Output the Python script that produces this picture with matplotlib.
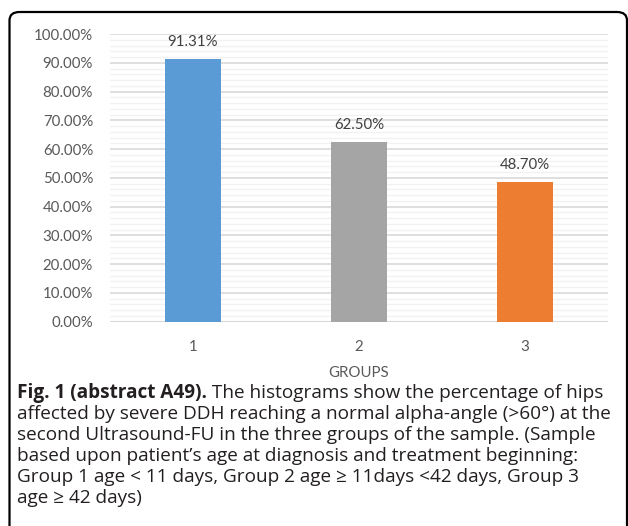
import matplotlib
matplotlib.use("Agg")
import matplotlib.pyplot as plt
from matplotlib.patches import FancyBboxPatch
from matplotlib.ticker import MultipleLocator, FuncFormatter

categories = ["1", "2", "3"]
values = [91.31, 62.50, 48.70]
bar_colors = ["#5B9BD5", "#A5A5A5", "#ED7D31"]
xlabel = "GROUPS"
caption_bold = "Fig. 1 (abstract A49)."
caption_lines = [
    " The histograms show the percentage of hips",
    "affected by severe DDH reaching a normal alpha-angle (>60°) at the",
    "second Ultrasound-FU in the three groups of the sample. (Sample",
    "based upon patient\u2019s age at diagnosis and treatment beginning:",
    "Group 1 age < 11 days, Group 2 age \u2265 11days <42 days, Group 3",
    "age \u2265 42 days)",
]

W, H = 628, 526
fig = plt.figure(figsize=(W / 100, H / 100), dpi=100)
FONT = "Lato"
CAPFONT = "Open Sans"
TXT = "#595959"

# rounded frame (only top and left visible)
frame = FancyBboxPatch((9.5 / W, -30 / H), (627 - 9.5) / W, (H - 12 + 30) / H,
                       boxstyle="round,pad=0,rounding_size=0.016",
                       transform=fig.transFigure, fill=False,
                       edgecolor="black", linewidth=1.6, clip_on=False)
fig.patches.append(frame)

ax = fig.add_axes([110 / W, (H - 321.7) / H, (608 - 110) / W, (321.7 - 34) / H])
x = list(range(len(categories)))
ax.bar(x, values, width=0.337, color=bar_colors, zorder=3)
ax.set_xlim(-0.5, len(categories) - 0.5)
ax.set_ylim(0, 100)
ax.yaxis.set_major_locator(MultipleLocator(10))
ax.yaxis.set_minor_locator(MultipleLocator(2))
ax.grid(which="major", axis="y", color="#D9D9D9", linewidth=1.2, zorder=0)
ax.grid(which="minor", axis="y", color="#F2F2F2", linewidth=1.0, zorder=0)
ax.axhline(0, color="#D9D9D9", linewidth=1.5, zorder=2)
for s in ax.spines.values():
    s.set_visible(False)
ax.tick_params(axis="both", which="both", length=0, colors=TXT, labelsize=10.8)
ax.tick_params(axis="y", pad=12.2)
ax.tick_params(axis="x", pad=13)
ax.yaxis.set_major_formatter(FuncFormatter(lambda v, p: f"{v:.2f}%"))
ax.set_xticks(x)
ax.set_xticklabels(categories)
for lab in ax.get_xticklabels() + ax.get_yticklabels():
    lab.set_fontfamily(FONT)
ax.set_xlabel(xlabel, fontsize=10.8, color=TXT, family=FONT, labelpad=9)
for xi, v in zip(x, values):
    ax.annotate(f"{v:.2f}%", (xi, v), xytext=(0, 9.4), textcoords="offset points",
                ha="center", va="baseline", fontsize=10.8, color="#404040", family=FONT)

# caption
base0 = 398
lh = 21
fig.canvas.draw()
r = fig.canvas.get_renderer()
cap_size = 13.7
tb = fig.text(17 / W, 1 - base0 / H, caption_bold, fontsize=cap_size, weight="bold",
              family=CAPFONT, color="#231F20", va="baseline", ha="left")
bb = tb.get_window_extent(renderer=r)
for i, line in enumerate(caption_lines):
    xpos = (bb.x1 / W) if i == 0 else 17 / W
    fig.text(xpos, 1 - (base0 + i * lh) / H, line, fontsize=cap_size,
             family=CAPFONT, color="#231F20", va="baseline", ha="left")

fig.savefig("out.png", dpi=100)
